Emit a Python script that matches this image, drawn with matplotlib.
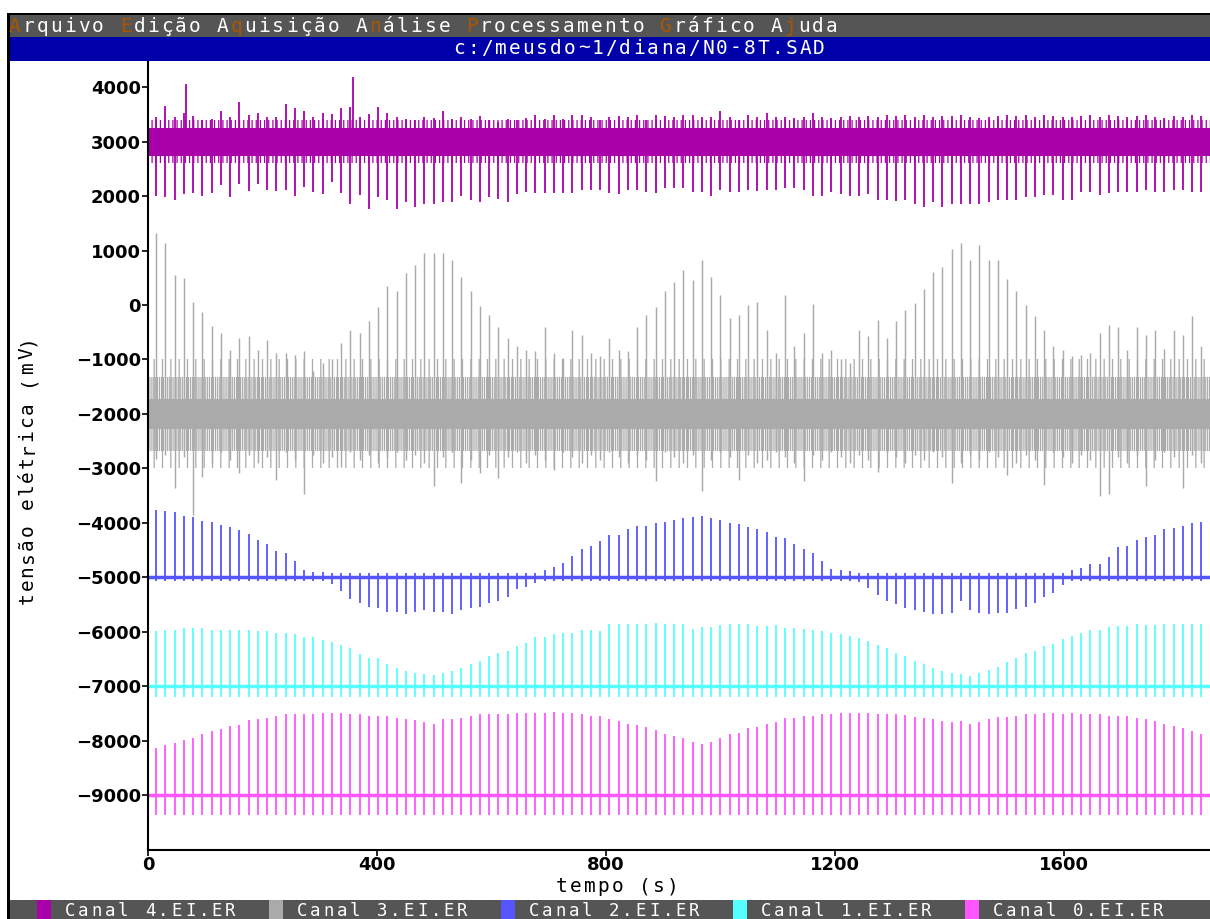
import numpy as np
import matplotlib
matplotlib.use("Agg")
import matplotlib.pyplot as plt
from matplotlib.patches import Rectangle

W, H = 1210, 919

# ---- dados ----
T0 = 14.0          # primeiro pulso (s)
PERIOD = 16.16     # intervalo entre pulsos (s)
N_SPIKES = 115
XMAX = 1855

# Canal 4 (roxo)
ch4_base = 3000
ch4_band = (2730, 3260)
ch4_halo = (2600, 3400)
ch4_down = [2000, 1985, 1935, 2035, 2060, 2000, 2060, 2200, 1985, 2230,
            2095, 2230, 2110, 2095, 2110, 2000, 2170, 2080, 2035, 2260,
            2060, 1860, 2015, 1770, 1975, 1935, 1770, 1895, 1800, 1860,
            1860, 1895, 1895, 2000, 1935, 1895, 1985, 1955, 1895, 2045,
            2080, 2065, 2065, 2060, 2065, 2060, 2110, 2120, 2110, 2060,
            2035, 2120, 2110, 2080, 2060, 2140, 2140,
            2140, 2080, 2080, 2000, 2110, 2080, 2080, 2110, 2095, 2120,
            2120, 2140, 2155, 2110, 2000, 2000, 2080, 2045, 2000, 2000,
            2045, 1935, 1935, 1910, 1925, 1860, 1800, 1885, 1800, 1860,
            1860, 1860, 1860, 1895, 1925, 1925, 1935, 1985, 1975, 2015,
            2015, 1935, 1935, 2080, 2080, 2015, 2060, 2080, 2080, 2080,
            2110, 2080, 2080, 2110, 2110, 2080, 2080, 2080]
ch4_up = [3460, 3660, 3450, 3520, 3475, 3400, 3420, 3555, 3450, 3720,
          3490, 3520, 3460, 3460, 3695, 3615, 3555, 3450, 3535, 3510,
          3615, 3635, 3450, 3500, 3645, 3520, 3450, 3420, 3400, 3460,
          3440, 3555, 3420, 3460, 3420, 3475, 3400, 3370, 3420, 3400,
          3440, 3490, 3420, 3490, 3420, 3490, 3490, 3460, 3400, 3460,
          3475, 3460, 3490, 3400, 3490, 3475, 3460,
          3490, 3490, 3460, 3460, 3555, 3460, 3400, 3490, 3460, 3535,
          3460, 3460, 3430, 3460, 3520, 3460, 3440, 3460, 3475, 3460,
          3475, 3460, 3490, 3475, 3490, 3460, 3490, 3460, 3475, 3475,
          3490, 3460, 3440, 3460, 3475, 3490, 3475, 3490, 3460, 3490,
          3475, 3460, 3460, 3475, 3490, 3460, 3490, 3475, 3460, 3475,
          3490, 3460, 3440, 3475, 3460, 3490, 3475, 3460]
ch4_big_t = [67, 358]
ch4_big_v = [4060, 4180]

# Canal 3 (cinza)
ch3_base = -2000
ch3_band = (-2280, -1720)
ch3_halo = (-2680, -1320)
ch3_up = [1330, 1140, 560, 500, 60, -130, -380, -515, -820, -600,
          -575, -820, -640, -880, -880, -910, -850, -1210, -1060, -1000,
          -700, -455, -515, -300, -40, 345, 260, 590, 730, 950,
          950, 950, 835, 515, 260, -20, -180, -395, -610, -760,
          -820, -850, -395, -880, -970, -455, -545, -880, -940, -610,
          -820, -850, -395, -180, -40, 260, 425, 650, 455, 835,
          515, 180, -240, -180, 0, 60, -455, -880, 180, -760,
          -515, 10, -880, -820, -1000, -1060, -455, -575, -270, -610,
          -300, -90, 30, 285, 605, 695, 1030, 1140, 830, 1110,
          820, 830, 485, 260, 0, -210, -455, -760, -820, -940,
          -910, -880, -515, -365, -395, -820, -395, -545, -455, -810,
          -455, -545, -210, -760, 425]
ch3_down = [-2820, -2750, -3360, -2800, -3850, -3150, -2900, -2700, -2850, -3090,
            -2750, -2900, -2800, -3210, -2700, -2850, -3480, -2750, -2900, -2800,
            -2970, -2700, -2850, -2750, -2900, -2800, -2700, -2850, -2750, -2900,
            -3330, -2800, -2700, -3270, -2850, -3090, -2750, -3180, -2800, -2700,
            -2900, -2750, -2850, -3030, -2700, -2800, -2900, -2750, -2850, -2700,
            -2800, -2900, -2750, -2850, -3240, -2700, -2800, -2900, -2750, -3420,
            -2850, -2700, -2800, -3210, -2750, -2900, -2850, -2700, -2800, -2900,
            -3240, -2750, -2850, -2700, -2800, -2900, -2750, -2850, -3060, -2700,
            -2800, -2900, -2750, -2850, -2700, -2800, -3270, -2900, -2750, -2850,
            -2700, -2800, -3120, -2900, -2750, -2850, -3300, -2700, -2800, -2900,
            -2750, -2850, -3510, -3480, -2800, -2900, -2750, -3330, -2850, -2700,
            -2800, -3360, -2750, -2900, -3120]

# Canal 2 (azul), desvio em relacao a linha de base
ch2_base = -5000
ch2_amp = [1240, 1210, 1190, 1130, 1100, 1040, 1010, 960, 930, 875,
           795, 685, 605, 490, 440, 295, 135, 105, 105, -120,
           -255, -400, -475, -540, -565, -630, -630, -675, -630, -610,
           -630, -630, -675, -610, -565, -550, -475, -430, -370, -215,
           -170, -100,
           135, 190, 270, 385, 520, 575, 660, 785, 770, 880,
           940, 940, 1000, 1020, 1050, 1085, 1100, 1130, 1085, 1050,
           1000, 980, 920, 880, 825, 745, 715, 610, 520, 440,
           300, 160, 135, 110, -90, -200, -330,
           -430, -500, -565, -610, -630, -675, -675, -650, -430, -610,
           -650, -675, -650, -650, -580, -540, -470, -370, -295, -150,
           135, 165, 245, 245, 380, 550, 580, 685, 745, 785,
           880, 905, 940, 990, 1020, 1010]

# Canal 1 (ciano)
ch1_base = -7000
ch1_tick = -190
ch1_amp = [1010, 1040, 1040, 1060, 1060, 1060, 1040, 1040, 1040, 1040,
           1030, 1010, 1010, 980, 980, 950, 900, 900, 840, 815,
           755, 705, 595, 520, 520, 415, 335, 275, 250, 215,
           200, 250, 275, 335, 415, 470, 545, 610, 645, 745,
           785, 900,
           900, 950, 980, 980, 1035, 1035, 1010, 1145, 1145, 1145,
           1145, 1145, 1165, 1145, 1145, 1145, 1055, 1085, 1085, 1120,
           1145, 1145, 1135, 1100, 1100, 1120, 1070, 1070, 1055, 1035,
           1010, 980, 960, 920, 890, 825, 755,
           705, 610, 550, 470, 400, 335, 275, 250, 225, 190,
           250, 305, 360, 440, 520, 610, 645, 745, 775, 870,
           930, 980, 1035, 1035, 1085, 1100, 1100, 1145, 1120, 1120,
           1145, 1145, 1145, 1145, 1135, 1145]

# Canal 0 (rosa)
ch0_base = -9000
ch0_tick = -370
ch0_amp = [870, 915, 950, 1005, 1055, 1115, 1175, 1205, 1265, 1285,
           1370, 1390, 1410, 1450, 1480, 1480, 1480, 1480, 1510, 1510,
           1510, 1480, 1480, 1450, 1450, 1450, 1420, 1390, 1370, 1345,
           1310, 1390, 1390, 1420, 1450, 1480, 1480, 1480, 1480, 1510,
           1510, 1510,
           1510, 1530, 1510, 1510, 1480, 1450, 1450, 1390, 1360, 1310,
           1285, 1250, 1200, 1115, 1085, 1055, 980, 930, 980, 1040,
           1115, 1145, 1225, 1250, 1310, 1345, 1410, 1420, 1450, 1450,
           1480, 1480, 1510, 1510, 1510, 1510, 1480,
           1480, 1480, 1470, 1430, 1420, 1390, 1360, 1335, 1360, 1310,
           1345, 1390, 1430, 1430, 1450, 1480, 1480, 1510, 1510, 1480,
           1510, 1480, 1480, 1480, 1450, 1450, 1450, 1410, 1390, 1360,
           1300, 1265, 1225, 1175, 1115, 1085]

legend_labels = ["Canal 4.EI.ER", "Canal 3.EI.ER", "Canal 2.EI.ER",
                 "Canal 1.EI.ER", "Canal 0.EI.ER"]
menu_text = "Arquivo Edição Aquisição Análise Processamento Gráfico Ajuda"
menu_hot = [0, 8, 16, 26, 33, 47, 56]
file_title = "c:/meusdo~1/diana/N0-8T.SAD"

C4, C3, C2, C1, C0 = "#aa00aa", "#aaaaaa", "#5555ff", "#55ffff", "#ff55ff"
GRAY_BAR, BLUE_BAR, ORANGE = "#555555", "#0000aa", "#aa5500"
MONO = "DejaVu Sans Mono"

plt.rcParams["hatch.linewidth"] = 0.9

fig = plt.figure(figsize=(W / 100, H / 100), dpi=100)
fig.patch.set_facecolor("white")


def px_rect(x0, y0, x1, y1, color, z=5):
    fig.add_artist(Rectangle((x0 / W, 1 - y1 / H), (x1 - x0) / W, (y1 - y0) / H,
                             transform=fig.transFigure, color=color, lw=0, zorder=z))


def mono(x, y, s, pitch, color="white", size=14, hot=(), rot=0, va="center"):
    # texto em fonte de terminal, um caractere por vez com passo fixo
    for i, ch in enumerate(s):
        c = ORANGE if i in hot else color
        if rot:
            fig.text(x / W, 1 - (y - i * pitch - pitch / 2) / H, ch, rotation=90,
                     ha="center", va="center", color=c, fontsize=size,
                     family=MONO, zorder=6)
        else:
            fig.text((x + i * pitch + pitch / 2) / W, 1 - y / H, ch, ha="center",
                     va=va, color=c, fontsize=size, family=MONO, zorder=6)


# ---- eixo ----
ax_top, ax_bot, ax_left = 60, 849.5, 148
ax = fig.add_axes([ax_left / W, 1 - ax_bot / H, 1 - ax_left / W, (ax_bot - ax_top) / H])
ax.set_xlim(0, XMAX)
ax.set_ylim(-10000, 4500)

t = T0 + PERIOD * np.arange(N_SPIKES)
lw = 1.3

# canal 4
ax.fill_between([0, XMAX], *ch4_halo, facecolor="none", edgecolor=C4, hatch="||||", lw=0)
ax.fill_between([0, XMAX], *ch4_band, color=C4, lw=0)
ax.vlines(t, ch4_base, ch4_down, color=C4, lw=lw)
ax.vlines(t, ch4_base, ch4_up, color=C4, lw=lw)
ax.vlines(ch4_big_t, ch4_base, ch4_big_v, color=C4, lw=lw)

# canal 3
ax.fill_between([0, XMAX], -3000, -1000, facecolor="none", edgecolor=C3, hatch="||", lw=0)
ax.fill_between([0, XMAX], *ch3_halo, facecolor="none", edgecolor=C3, hatch="||||||||", lw=0)
ax.fill_between([0, XMAX], *ch3_band, color=C3, lw=0)
ax.vlines(t, ch3_base, ch3_up, color=C3, lw=lw * 0.8)
ax.vlines(t, ch3_base, ch3_down, color=C3, lw=lw * 0.8)

# canal 2
a2 = np.array(ch2_amp)
ax.axhline(ch2_base, color=C2, lw=2.5)
ax.vlines(t, ch2_base, ch2_base + a2, color=C2, lw=lw)
ax.vlines(t, ch2_base, ch2_base - np.sign(a2) * 70, color=C2, lw=lw)

# canal 1
ax.axhline(ch1_base, color=C1, lw=2.5)
ax.vlines(t, ch1_base, ch1_base + np.array(ch1_amp), color=C1, lw=lw)
ax.vlines(t, ch1_base, ch1_base + ch1_tick, color=C1, lw=lw)

# canal 0
ax.axhline(ch0_base, color=C0, lw=2.5)
ax.vlines(t, ch0_base, ch0_base + np.array(ch0_amp), color=C0, lw=lw)
ax.vlines(t, ch0_base, ch0_base + ch0_tick, color=C0, lw=lw)

for s in ("top", "right"):
    ax.spines[s].set_visible(False)
for s in ("left", "bottom"):
    ax.spines[s].set_linewidth(1.5)
ax.set_yticks(np.arange(-9000, 4001, 1000))
ax.set_xticks([0, 400, 800, 1200, 1600])
ax.tick_params(length=4, width=1.2, pad=1, labelsize=13)
for lab in ax.get_xticklabels() + ax.get_yticklabels():
    lab.set_fontweight("bold")
    lab.set_family("DejaVu Sans")

# ---- moldura da janela ----
px_rect(0, 0, W, 12.7, "white")
px_rect(7, 12.7, W, 15, "black")
px_rect(7, 12.7, 9.5, H, "black")
px_rect(9.5, 15, W, 37, GRAY_BAR)
px_rect(9.5, 37, W, 61, BLUE_BAR)
mono(8, 26, menu_text, 13.85, hot=menu_hot)
mono(452, 48, file_title, 13.85)

# rotulos dos eixos
mono(555, 887, "tempo (s)", 13.85, color="black")
mono(27, 605, "tensão elétrica (mV)", 13.6, color="black", rot=90)

# barra de legenda
px_rect(9.5, 900, W, H, GRAY_BAR)
leg_colors = [C4, C3, C2, C1, C0]
for i, (lab, c) in enumerate(zip(legend_labels, leg_colors)):
    x0 = 37 + i * 232
    px_rect(x0, 900, x0 + 14, H, c, z=6)
    mono(x0 + 26, 902, lab, 13.4, size=12.5, va="top")

fig.savefig("out.png", dpi=100)
